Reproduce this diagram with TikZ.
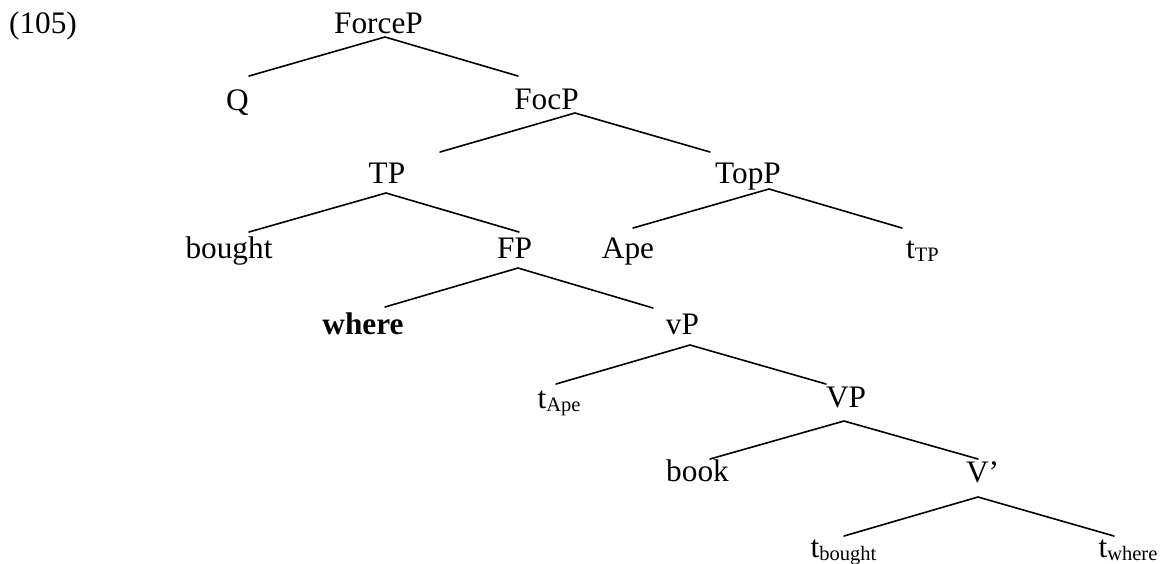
\documentclass[tikz,border=0pt]{standalone}
\usepackage{fontspec}
\setmainfont{Liberation Serif}
\newcommand{\tsub}[1]{t\raisebox{-3.5pt}{\fontsize{20.5}{22}\selectfont #1}}
\begin{document}
\begin{tikzpicture}[x=1pt,y=-1pt,
  lab/.style={anchor=base,inner sep=0pt,font=\fontsize{31.3}{36}\selectfont},
  branch/.style={line width=1.6pt,line cap=round}]
\useasboundingbox (0,0) rectangle (1161,563);
% labels
\node[lab] (ex) at (43,33) {(105)};
\node[lab] (ForceP) at (378.5,33) {ForceP};
\node[lab] (Q) at (237.5,110) {Q};
\node[lab] (FocP) at (546.5,109) {FocP};
\node[lab] (TP) at (387,183) {TP};
\node[lab] (TopP) at (748,183) {TopP};
\node[lab] (bought) at (229,258) {bought};
\node[lab] (FP) at (514.5,258) {FP};
\node[lab] (Ape) at (628,258) {Ape};
\node[lab] (tTP) at (922.5,258) {\tsub{TP}};
\node[lab] (where) at (363,334) {\textbf{where}};
\node[lab] (vP) at (682.5,334) {vP};
\node[lab] (tApe) at (559,408) {\tsub{Ape}};
\node[lab] (VP) at (846,407) {VP};
\node[lab] (book) at (697.5,481) {book};
\node[lab] (Vbar) at (982.5,482) {V’};
\node[lab] (tbought) at (843.5,557) {\tsub{bought}};
\node[lab] (twhere) at (1128,557) {\tsub{where}};
% attachment points
\coordinate (ForceP-d) at (385,37);
\coordinate (Q-u) at (249,76);
\coordinate (FocP-u) at (518,76);
\coordinate (FocP-d) at (575,113);
\coordinate (TP-u) at (440,152);
\coordinate (TopP-u) at (710,152);
\coordinate (TP-d) at (386,193);
\coordinate (bought-u) at (249,232);
\coordinate (FP-u) at (519,232);
\coordinate (TopP-d) at (769,189);
\coordinate (Ape-u) at (633,228);
\coordinate (tTP-u) at (902,228);
\coordinate (FP-d) at (518,268);
\coordinate (where-u) at (385,307);
\coordinate (vP-u) at (653,308);
\coordinate (vP-d) at (690,345);
\coordinate (tApe-u) at (556,384);
\coordinate (VP-u) at (826,384);
\coordinate (VP-d) at (844,421);
\coordinate (book-u) at (710,459);
\coordinate (Vbar-u) at (978,459);
\coordinate (Vbar-d) at (978,497);
\coordinate (tbought-u) at (844,536);
\coordinate (twhere-u) at (1114,536);
% branches
\draw[branch] (Q-u) -- (ForceP-d) -- (FocP-u);
\draw[branch] (TP-u) -- (FocP-d) -- (TopP-u);
\draw[branch] (bought-u) -- (TP-d) -- (FP-u);
\draw[branch] (Ape-u) -- (TopP-d) -- (tTP-u);
\draw[branch] (where-u) -- (FP-d) -- (vP-u);
\draw[branch] (tApe-u) -- (vP-d) -- (VP-u);
\draw[branch] (book-u) -- (VP-d) -- (Vbar-u);
\draw[branch] (tbought-u) -- (Vbar-d) -- (twhere-u);
\end{tikzpicture}
\end{document}
